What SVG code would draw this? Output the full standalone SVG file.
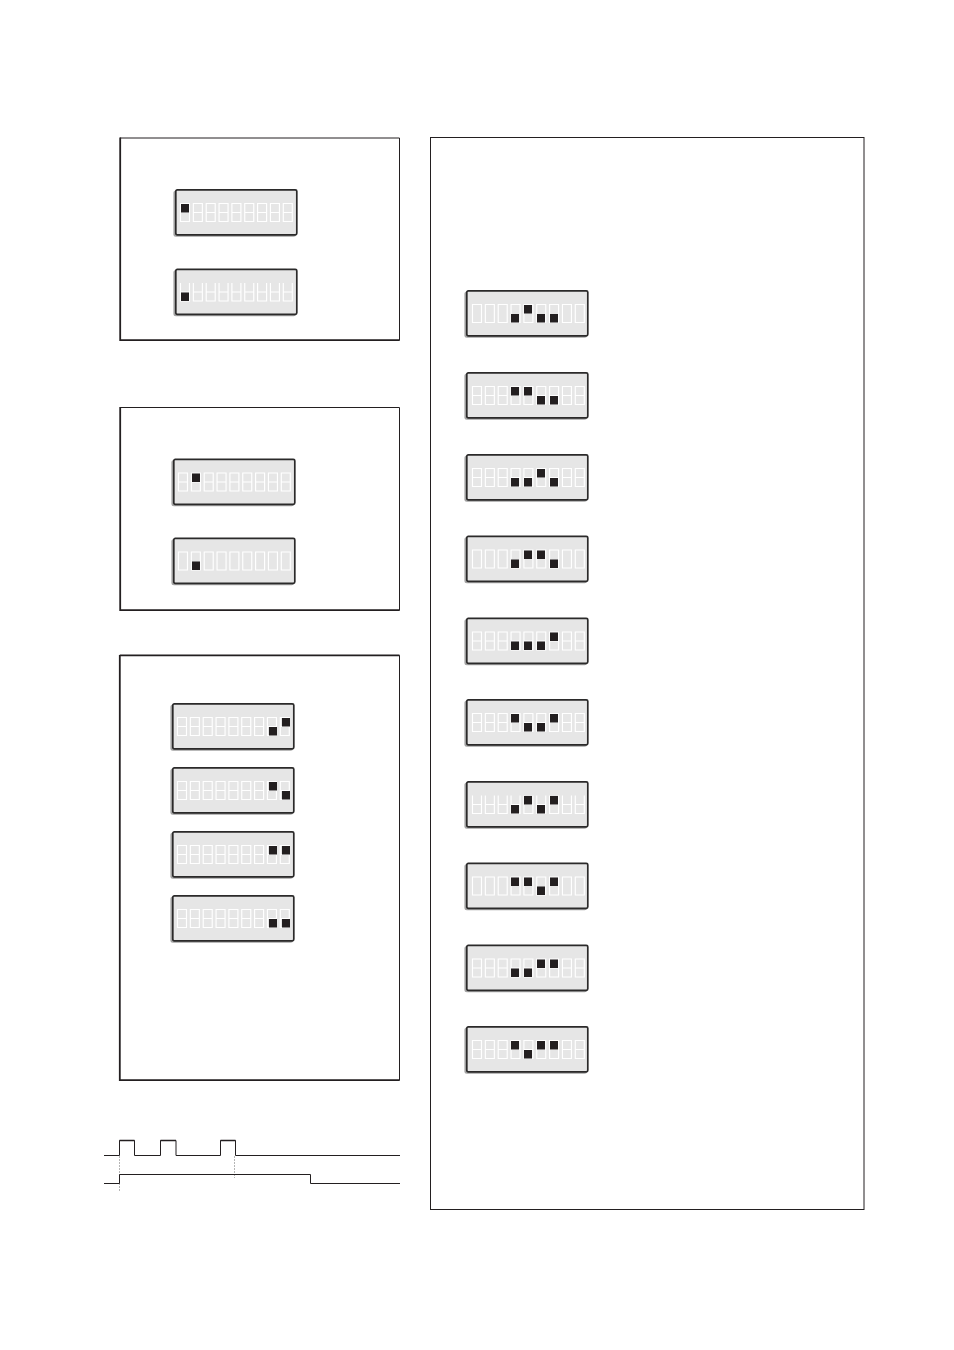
<svg xmlns="http://www.w3.org/2000/svg" width="954" height="1350" viewBox="0 0 954 1350">
<style>
.panel{fill:none;stroke:#231f20;stroke-width:1}
.heavy{fill:none;stroke:#231f20;stroke-width:1.8}
.shade{fill:#a3a3a3}
.lcd{fill:#e6e6e6;stroke:#2b2a2a;stroke-width:1.7}
.seg{fill:none;stroke:#fff;stroke-width:1.15}
.dot{fill:#231f20}
.wave{fill:none;stroke:#231f20;stroke-width:1}
.guide{fill:none;stroke:#b5b5b5;stroke-width:1;stroke-dasharray:2 1}
</style>
<defs>
<path id="d8" class="seg" d="M.5 .5h9v18h-9zM.5 9.5h9"/>
<path id="d0" class="seg" d="M.5 .5h9v18h-9z"/>
<path id="dU" class="seg" d="M.5 .5v18h9v-18M.5 9.5h9"/>
<rect id="t" class="dot" width="8" height="8.5"/>
<g id="case"><rect class="shade" x="-1.6" y="1.4" width="122.6" height="46.4" rx="2.5"/><rect class="lcd" x=".8" y=".8" width="121" height="45" rx="1.5"/></g>
<g id="r8"><use href="#d8" x="0"/><use href="#d8" x="12.85"/><use href="#d8" x="25.7"/><use href="#d8" x="38.55"/><use href="#d8" x="51.4"/><use href="#d8" x="64.25"/><use href="#d8" x="77.1"/><use href="#d8" x="89.95"/><use href="#d8" x="102.8"/></g>
<g id="r0"><use href="#d0" x="0"/><use href="#d0" x="12.85"/><use href="#d0" x="25.7"/><use href="#d0" x="38.55"/><use href="#d0" x="51.4"/><use href="#d0" x="64.25"/><use href="#d0" x="77.1"/><use href="#d0" x="89.95"/><use href="#d0" x="102.8"/></g>
<g id="rU"><use href="#dU" x="0"/><use href="#dU" x="12.85"/><use href="#dU" x="25.7"/><use href="#dU" x="38.55"/><use href="#dU" x="51.4"/><use href="#dU" x="64.25"/><use href="#dU" x="77.1"/><use href="#dU" x="89.95"/><use href="#dU" x="102.8"/></g>
</defs>

<g id="panel-a"><path class="panel" d="M120 138H399.5V340.5"/><path class="heavy" d="M120.2 137.5V340.2H399.5"/></g>
<g id="panel-b"><path class="panel" d="M120 407.5H399.5V610.5"/><path class="heavy" d="M120.2 407V610.2H399.5"/></g>
<g id="panel-c"><path class="panel" d="M120 655.5H399.5V1080.5"/><path class="heavy" d="M119.8 655V1080.2H399.5M119.8 655.3H399.5"/></g>
<rect id="panel-d" class="panel" x="430.5" y="137.5" width="433.5" height="1072"/>

<!-- left column displays: digit row sits 5px in, 14px down -->
<g id="lcd-a1" transform="translate(175 189)"><use href="#case"/><use href="#r8" x="5" y="14"/><use href="#t" x="6" y="15"/></g>
<g id="lcd-a2" transform="translate(175 268.500)"><use href="#case"/><use href="#rU" x="5" y="14"/><use href="#t" x="6" y="24"/></g>
<g id="lcd-b1" transform="translate(173 458.500)"><use href="#case"/><use href="#r8" x="5" y="14"/><use href="#t" x="19" y="15"/></g>
<g id="lcd-b2" transform="translate(173 537.500)"><use href="#case"/><use href="#r0" x="5" y="14"/><use href="#t" x="19" y="24"/></g>
<g id="lcd-c1" transform="translate(172 703)"><use href="#case"/><use href="#r8" x="5" y="14"/><use href="#t" x="97" y="24"/><use href="#t" x="110" y="15"/></g>
<g id="lcd-c2" transform="translate(172 767)"><use href="#case"/><use href="#r8" x="5" y="14"/><use href="#t" x="97" y="15"/><use href="#t" x="110" y="24"/></g>
<g id="lcd-c3" transform="translate(172 831)"><use href="#case"/><use href="#r8" x="5" y="14"/><use href="#t" x="97" y="15"/><use href="#t" x="110" y="15"/></g>
<g id="lcd-c4" transform="translate(172 895)"><use href="#case"/><use href="#r8" x="5" y="14"/><use href="#t" x="97" y="24"/><use href="#t" x="110" y="24"/></g>

<!-- right column displays: four marks in digits 3..6 -->
<g id="lcd-d1" transform="translate(466 290)"><use href="#case"/><use href="#r0" x="6" y="14"/><use href="#t" x="45" y="24"/><use href="#t" x="58" y="15"/><use href="#t" x="71" y="24"/><use href="#t" x="84" y="24"/></g>
<g id="lcd-d2" transform="translate(466 372)"><use href="#case"/><use href="#r8" x="6" y="14"/><use href="#t" x="45" y="15"/><use href="#t" x="58" y="15"/><use href="#t" x="71" y="24"/><use href="#t" x="84" y="24"/></g>
<g id="lcd-d3" transform="translate(466 454)"><use href="#case"/><use href="#r8" x="6" y="14"/><use href="#t" x="45" y="24"/><use href="#t" x="58" y="24"/><use href="#t" x="71" y="15"/><use href="#t" x="84" y="24"/></g>
<g id="lcd-d4" transform="translate(466 535.500)"><use href="#case"/><use href="#r0" x="6" y="14"/><use href="#t" x="45" y="24"/><use href="#t" x="58" y="15"/><use href="#t" x="71" y="15"/><use href="#t" x="84" y="24"/></g>
<g id="lcd-d5" transform="translate(466 617.500)"><use href="#case"/><use href="#r8" x="6" y="14"/><use href="#t" x="45" y="24"/><use href="#t" x="58" y="24"/><use href="#t" x="71" y="24"/><use href="#t" x="84" y="15"/></g>
<g id="lcd-d6" transform="translate(466 699)"><use href="#case"/><use href="#r8" x="6" y="14"/><use href="#t" x="45" y="15"/><use href="#t" x="58" y="24"/><use href="#t" x="71" y="24"/><use href="#t" x="84" y="15"/></g>
<g id="lcd-d7" transform="translate(466 781)"><use href="#case"/><use href="#rU" x="6" y="14"/><use href="#t" x="45" y="24"/><use href="#t" x="58" y="15"/><use href="#t" x="71" y="24"/><use href="#t" x="84" y="15"/></g>
<g id="lcd-d8" transform="translate(466 862.500)"><use href="#case"/><use href="#r0" x="6" y="14"/><use href="#t" x="45" y="15"/><use href="#t" x="58" y="15"/><use href="#t" x="71" y="24"/><use href="#t" x="84" y="15"/></g>
<g id="lcd-d9" transform="translate(466 944.500)"><use href="#case"/><use href="#r8" x="6" y="14"/><use href="#t" x="45" y="24"/><use href="#t" x="58" y="24"/><use href="#t" x="71" y="15"/><use href="#t" x="84" y="15"/></g>
<g id="lcd-d10" transform="translate(466 1026)"><use href="#case"/><use href="#r8" x="6" y="14"/><use href="#t" x="45" y="15"/><use href="#t" x="58" y="24"/><use href="#t" x="71" y="15"/><use href="#t" x="84" y="15"/></g>

<g id="connectors">
<path class="guide" d="M119.500 1156V1192M234.500 1156V1178"/>
<path class="wave" d="M104 1155.500H119.500V1140.500H134.500V1155.500H160.500V1140.500H176V1155.500H220.500V1140.500H235.500V1155.500H400"/>
<path class="wave" d="M119.500 1140.500H134.500M160.500 1140.500H176M220.500 1140.500H235.500" style="stroke-width:1.6"/>
<path class="wave" d="M104 1183.500H119.500V1174.500H310.500V1183.500H400"/>
</g>
</svg>
